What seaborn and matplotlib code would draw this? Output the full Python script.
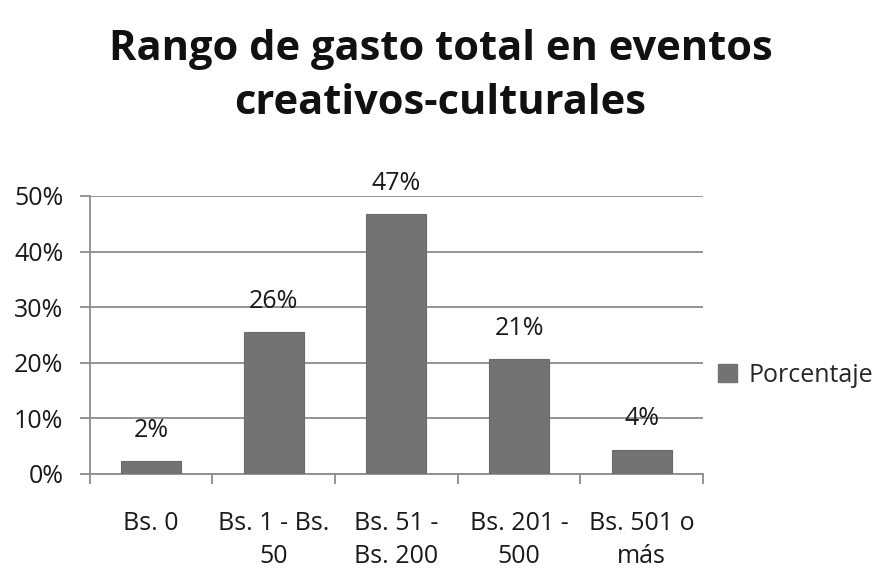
import matplotlib
matplotlib.use("Agg")
import matplotlib.pyplot as plt
import seaborn as sns
from matplotlib.ticker import MultipleLocator, FixedLocator, PercentFormatter
from matplotlib.patches import Patch

categories = ["Bs. 0", "Bs. 1 - Bs.\n50", "Bs. 51 -\nBs. 200", "Bs. 201 -\n500", "Bs. 501 o\nmás"]
values = [0.024, 0.256, 0.467, 0.206, 0.044]
labels = ["2%", "26%", "47%", "21%", "4%"]
series_name = "Porcentaje"
title = "Rango de gasto total en eventos\ncreativos-culturales"

sns.set_theme(style="white")
plt.rcParams['font.family'] = ['Open Sans', 'DejaVu Sans']

fig = plt.figure(figsize=(8.81, 5.82), dpi=100)
ax = fig.add_axes([0.102, 0.1856, 0.696, 0.4777])

bar_color = "#737373"
grid_color = "#8c8c8c"
sns.barplot(x=categories, y=values, color=bar_color, width=0.49, ax=ax,
            saturation=1, edgecolor="#6a6a6a", linewidth=0.8, zorder=3)

ax.set_ylim(0, 0.5)
ax.set_xlim(-0.5, len(categories) - 0.5)
ax.yaxis.set_major_locator(MultipleLocator(0.1))
ax.yaxis.set_major_formatter(PercentFormatter(1.0, decimals=0))
ax.yaxis.grid(True, color=grid_color, linewidth=1.3, zorder=0)
ax.set_axisbelow(True)

for s in ["top", "right"]:
    ax.spines[s].set_visible(False)
for s in ["left", "bottom"]:
    ax.spines[s].set_color(grid_color)
    ax.spines[s].set_linewidth(1.3)

ax.tick_params(axis="y", which="major", left=True, length=7, width=1.3,
               color=grid_color, labelsize=18, pad=12, labelcolor="#1a1a1a")
ax.xaxis.set_minor_locator(FixedLocator([i - 0.5 for i in range(len(categories) + 1)]))
ax.tick_params(axis="x", which="minor", bottom=True, length=7, width=1.3, color=grid_color)
ax.tick_params(axis="x", which="major", bottom=False, length=0, labelsize=18, pad=27,
               labelcolor="#1a1a1a")
for t in ax.get_xticklabels():
    t.set_horizontalalignment("center")
    t.set_multialignment("center")
    t.set_linespacing(1.4)
ax.set_xlabel("")
ax.set_ylabel("")

for i, (v, lab) in enumerate(zip(values, labels)):
    ax.annotate(lab, xy=(i, v), xytext=(0, 22), textcoords="offset points",
                ha="center", va="center", fontsize=18, color="#1a1a1a")

fig.suptitle(title, fontsize=30, fontweight="bold", y=0.95, x=0.5, color="#111111",
             linespacing=1.4)

fig.legend(handles=[Patch(facecolor=bar_color, edgecolor=bar_color, label=series_name)],
           loc="center left", bbox_to_anchor=(0.815, 0.355), frameon=False,
           borderpad=0, borderaxespad=0,
           fontsize=18, handlelength=0.75, handleheight=0.75, handletextpad=0.45)

fig.savefig("out.png", dpi=100)
